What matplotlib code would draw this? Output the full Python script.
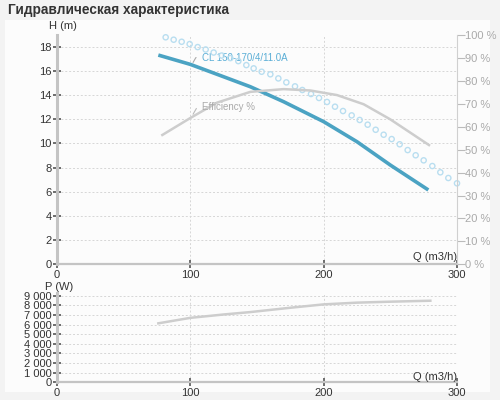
import matplotlib.pyplot as plt
from matplotlib.patches import Rectangle
from matplotlib.ticker import FuncFormatter

plt.rcParams['font.family'] = ['Liberation Sans', 'DejaVu Sans']

# head curve (m)
head_q = [76, 100, 120, 145, 170, 200, 225, 250, 278.5]
head_h = [17.31, 16.54, 15.72, 14.69, 13.45, 11.8, 10.14, 8.21, 6.15]

# dotted curve (m)
dot_q = [81.5, 87.5, 93.5, 99.5, 105.5, 111.5, 117.5, 123.5, 130, 136, 142, 147.5,
         153.5, 160, 166, 172, 178.5, 184, 190.5, 196.5, 202.5, 208.5, 214.5, 221,
         227, 233, 239, 245, 251, 257, 263, 269, 275, 281.5, 287.5, 293.5, 300]
dot_h = [18.78, 18.58, 18.41, 18.22, 17.97, 17.77, 17.52, 17.27, 17.06, 16.81, 16.48, 16.21,
         15.93, 15.72, 15.38, 15.05, 14.72, 14.42, 14.09, 13.76, 13.43, 13.04, 12.68, 12.32,
         11.94, 11.55, 11.13, 10.72, 10.36, 9.93, 9.45, 9.02, 8.60, 8.13, 7.61, 7.14, 6.70]

# efficiency (%)
eff_q = [79, 100, 120, 145, 170, 190, 210, 230, 250, 279]
eff_v = [56.4, 63.8, 70.5, 75.2, 76.4, 75.8, 73.8, 69.8, 63.2, 52.0]

# power (W)
pow_q = [76, 100, 125, 145, 175, 200, 225, 250, 280]
pow_w = [6130, 6700, 7050, 7300, 7750, 8100, 8280, 8380, 8480]

q_ticks = [0, 100, 200, 300]
h_ticks = list(range(0, 19, 2))
eff_ticks = list(range(0, 101, 10))
pow_ticks = list(range(0, 9001, 1000))

blue = '#4ba3c3'
light_blue = '#b9def0'
grey_line = '#cdcdcd'
spine_col = '#c4c4c4'
txt = '#333333'

fig = plt.figure(figsize=(5, 4), dpi=100, facecolor='#f3f3f3')
fig.patches.append(Rectangle((5 / 500, 8 / 400), 485 / 500, 372 / 400,
                             transform=fig.transFigure, facecolor='#fcfcfc',
                             edgecolor='none', zorder=-10))
fig.text(8 / 500, 1 - 10 / 400, 'Гидравлическая характеристика', fontsize=9.8,
         fontweight='bold', color=txt, va='center', ha='left')


def style_axis(ax, ymax):
    ax.set_facecolor('none')
    ax.set_xlim(0, 300)
    ax.set_ylim(0, ymax)
    ax.set_xticks(q_ticks)
    ax.grid(True, color='#d6d6d6', linestyle=(0, (2, 2)), linewidth=0.7)
    for s in ['top', 'right']:
        ax.spines[s].set_visible(False)
    ax.spines['left'].set_color(spine_col)
    ax.spines['left'].set_linewidth(2.2)
    ax.spines['bottom'].set_color(spine_col)
    ax.spines['bottom'].set_linewidth(1.6)
    ax.tick_params(axis='both', direction='inout', length=6, width=1.2,
                   color='#555555', labelcolor=txt, labelsize=8, pad=1)


# --- top chart: head / efficiency
ax = fig.add_axes([57 / 500, 1 - 264.3 / 400, 400 / 500, 229.3 / 400])
ax2 = ax.twinx()
style_axis(ax, 18.97)
ax.set_yticks(h_ticks)

ax2.set_ylim(0, 100)
ax2.set_yticks(eff_ticks)
ax2.yaxis.set_major_formatter(FuncFormatter(lambda v, p: f'{int(v)} %'))
for s in ['top', 'left', 'bottom']:
    ax2.spines[s].set_visible(False)
ax2.spines['right'].set_color('#d0d0d0')
ax2.spines['right'].set_linewidth(0.8)
ax2.tick_params(axis='y', direction='out', length=6, width=0.8, color='#bbbbbb',
                labelcolor='#aaaaaa', labelsize=8, pad=0)
ax2.plot(eff_q, eff_v, color=grey_line, linewidth=1.8)
ax2.annotate('Efficiency %', xy=(101, 64.4), xytext=(108.5, 68.5),
             color='#aaaaaa', fontsize=7, va='center',
             arrowprops=dict(arrowstyle='-', color='#bbbbbb', lw=0.8,
                             connectionstyle='angle,angleA=0,angleB=60,rad=0'))

ax.plot(head_q, head_h, color=blue, linewidth=2.6, zorder=5, solid_capstyle='butt')
ax.scatter(dot_q, dot_h, s=14, facecolors='none', edgecolors=light_blue,
           linewidths=1.0, zorder=4, clip_on=False)
ax.annotate('CL 150-170/4/11.0A', xy=(101, 16.5), xytext=(108.5, 17.1),
            color='#5aaed6', fontsize=7, va='center',
            arrowprops=dict(arrowstyle='-', color='#aaaaaa', lw=0.8,
                            connectionstyle='angle,angleA=0,angleB=60,rad=0'))
ax.text(-6, 19.3, 'H (m)', fontsize=8, color=txt, ha='left', va='bottom')
ax.text(300, 0.2, 'Q (m3/h)', fontsize=8, color=txt, ha='right', va='bottom')

# --- bottom chart: power
axp = fig.add_axes([57 / 500, 1 - 382.3 / 400, 400 / 500, 89.3 / 400])
style_axis(axp, 9283)
axp.set_yticks(pow_ticks)
axp.yaxis.set_major_formatter(FuncFormatter(lambda v, p: f'{int(v):,}'.replace(',', ' ')))
axp.plot(pow_q, pow_w, color=grey_line, linewidth=1.8, zorder=3)
axp.text(-9, 9350, 'P (W)', fontsize=8, color=txt, ha='left', va='bottom')
axp.text(300, 80, 'Q (m3/h)', fontsize=8, color=txt, ha='right', va='bottom')

fig.savefig('out.png', dpi=100, facecolor=fig.get_facecolor())
